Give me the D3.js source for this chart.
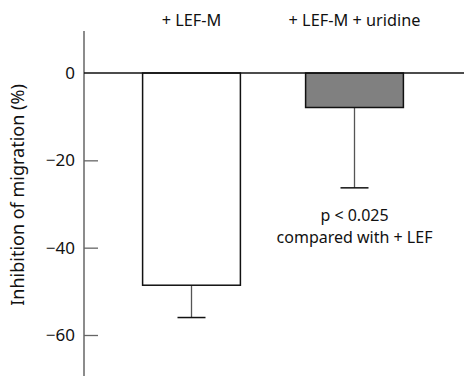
<!DOCTYPE html>
<html>
<head>
<meta charset="utf-8">
<script src="https://cdn.jsdelivr.net/npm/d3@7"></script>
<style>
  html, body { margin: 0; padding: 0; background: #fff; }
  svg { display: block; }
  text { font-family: "Noto Sans", "DejaVu Sans", sans-serif; fill: #111; }
</style>
</head>
<body>
<svg id="chart" width="464" height="376"></svg>
<script>
// Treatment groups and their mean inhibition of migration (%) with SEM
const categories = ["+ LEF-M", "+ LEF-M + uridine"];
const means = [-48.6, -7.9];
const errors = [7.4, 18.4];
const barFills = ["#ffffff", "#808080"];
const yTicks = [0, -20, -40, -60];
const yExtent = [9.6, -69.5];
const note = ["p < 0.025", "compared with + LEF"];

const svg = d3.select("#chart");
const W = 464, H = 376;

const y = d3.scaleLinear().domain([0, -60]).range([73, 335]);
const x = d3.scaleBand().domain(categories).range([110, 436])
  .paddingInner(0.4).paddingOuter(0.2);
const axisX = 84;

// Y axis: gray spine with inward ticks
const axis = d3.axisRight(y).tickValues(yTicks.filter(d => d !== 0)).tickSize(14).tickFormat("");
const gAxis = svg.append("g").attr("transform", `translate(${axisX},0)`).call(axis);
gAxis.select(".domain").remove();
gAxis.selectAll(".tick line").attr("stroke", "#666").attr("stroke-width", 1.3);
svg.append("line")
  .attr("x1", axisX).attr("x2", axisX)
  .attr("y1", y(yExtent[0])).attr("y2", y(yExtent[1]))
  .attr("stroke", "#666").attr("stroke-width", 1.5);

// Tick labels
svg.append("g").selectAll("text").data(yTicks).join("text")
  .attr("x", 75).attr("y", d => y(d))
  .attr("dy", "0.36em")
  .attr("text-anchor", "end")
  .attr("font-size", 17)
  .text(d => d === 0 ? "0" : "\u2212" + Math.abs(d));

// Axis title
svg.append("text")
  .attr("transform", "translate(23.5,195) rotate(-90)")
  .attr("text-anchor", "middle")
  .attr("font-size", 18)
  .text("Inhibition of migration (%)");

// Error bars (drawn below the bars)
const eb = svg.append("g").selectAll("g").data(categories).join("g");
eb.append("line")
  .attr("x1", d => x(d) + x.bandwidth() / 2)
  .attr("x2", d => x(d) + x.bandwidth() / 2)
  .attr("y1", (d, i) => y(means[i]))
  .attr("y2", (d, i) => y(means[i] - errors[i]))
  .attr("stroke", "#555").attr("stroke-width", 1.3);
eb.append("line")
  .attr("x1", d => x(d) + x.bandwidth() / 2 - 14)
  .attr("x2", d => x(d) + x.bandwidth() / 2 + 14)
  .attr("y1", (d, i) => y(means[i] - errors[i]))
  .attr("y2", (d, i) => y(means[i] - errors[i]))
  .attr("stroke", "#111").attr("stroke-width", 1.5);

// Bars
svg.append("g").selectAll("rect").data(categories).join("rect")
  .attr("x", d => x(d))
  .attr("width", x.bandwidth())
  .attr("y", y(0))
  .attr("height", (d, i) => y(means[i]) - y(0))
  .attr("fill", (d, i) => barFills[i])
  .attr("stroke", "#111").attr("stroke-width", 1.5);

// Zero reference line
svg.append("line")
  .attr("x1", axisX).attr("x2", W)
  .attr("y1", y(0)).attr("y2", y(0))
  .attr("stroke", "#111").attr("stroke-width", 1.3);

// Group labels above the plot
svg.append("g").selectAll("text").data(categories).join("text")
  .attr("x", d => x(d) + x.bandwidth() / 2)
  .attr("y", 26)
  .attr("text-anchor", "middle")
  .attr("font-size", 16.3)
  .text(d => d);

// Significance note below the uridine bar
const noteX = x(categories[1]) + x.bandwidth() / 2;
svg.append("g").selectAll("text").data(note).join("text")
  .attr("x", noteX)
  .attr("y", (d, i) => 221 + i * 22)
  .attr("text-anchor", "middle")
  .attr("font-size", 16)
  .text(d => d);
</script>
</body>
</html>
